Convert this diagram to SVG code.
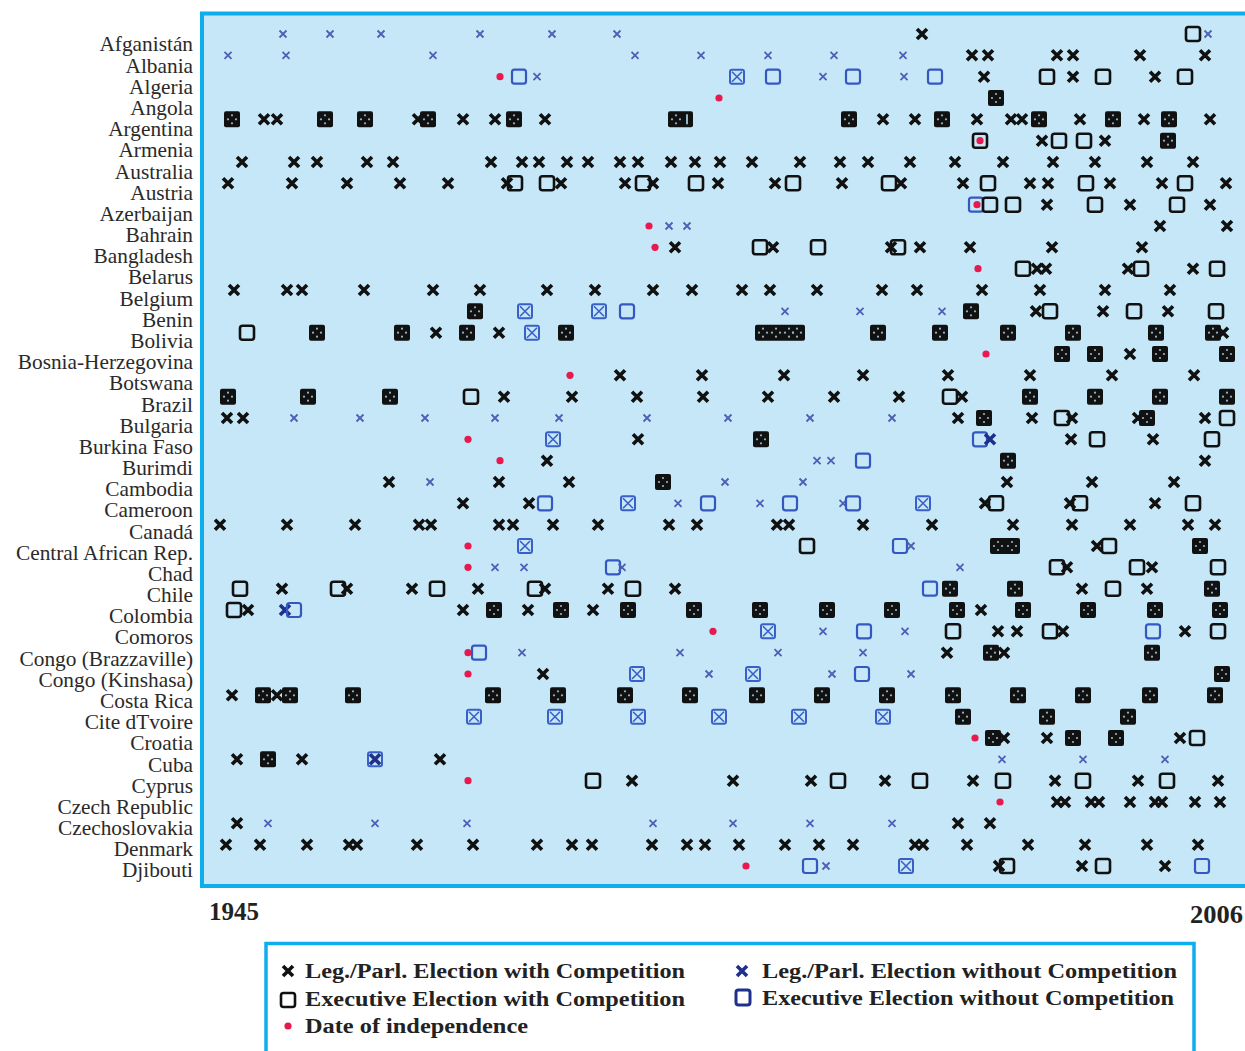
<svg xmlns="http://www.w3.org/2000/svg" width="1245" height="1051" viewBox="0 0 1245 1051">
<style>
.lbl{font-family:"Liberation Serif","Times New Roman",serif;font-size:22px;fill:#2a2a2a;text-anchor:end}
.yr{font-family:"Liberation Serif","Times New Roman",serif;font-size:25px;font-weight:bold;fill:#222}
.lg{font-family:"Liberation Serif","Times New Roman",serif;font-size:20px;font-weight:bold;fill:#222}
.dot{fill:#8fb7c9}
</style>
<defs>
<g id="X"><path d="M-5,-5L5,5M5,-5L-5,5" stroke="#111" stroke-width="3.6" fill="none"/></g>
<g id="x"><path d="M-3.5,-3.5L3.5,3.5M3.5,-3.5L-3.5,3.5" stroke="#4d5fb5" stroke-width="1.8" fill="none"/></g>
<g id="Q"><path d="M-5,-5L5,5M5,-5L-5,5" stroke="#1f308c" stroke-width="3.6" fill="none"/></g>
<g id="S"><rect x="-7" y="-7" width="14" height="14" rx="2.5" fill="none" stroke="#111" stroke-width="2.6"/></g>
<g id="B"><rect x="-7" y="-7" width="14" height="14" rx="2.5" fill="none" stroke="#3558c0" stroke-width="2.2"/></g>
<g id="D"><circle cx="-4" cy="0" r="1.1" class="dot"/><circle cx="4" cy="0" r="1.1" class="dot"/><circle cx="0" cy="-4" r="1.1" class="dot"/><circle cx="0" cy="4" r="1.1" class="dot"/></g>
<g id="F"><rect x="-8" y="-8" width="16" height="16" rx="2" fill="#111"/><use href="#D"/></g>
<g id="G"><rect x="-7" y="-7" width="14" height="14" rx="2" fill="none" stroke="#3a60c8" stroke-width="2"/><path d="M-5,-5L5,5M5,-5L-5,5" stroke="#3a60c8" stroke-width="1.6"/></g>
<g id="R"><circle r="3.6" fill="#e8194f"/></g>
</defs>
<rect width="1245" height="1051" fill="#ffffff"/>
<rect id="plot" x="202" y="13.5" width="1060" height="872.5" fill="#c6e7f7" stroke="#0eaeec" stroke-width="4"/>
<g id="labels" transform="scale(0.97 1)">
<text class="lbl" x="199" y="51.5">Afganistán</text>
<text class="lbl" x="199" y="72.7">Albania</text>
<text class="lbl" x="199" y="93.9">Algeria</text>
<text class="lbl" x="199" y="115">Angola</text>
<text class="lbl" x="199" y="136.2">Argentina</text>
<text class="lbl" x="199" y="157.4">Armenia</text>
<text class="lbl" x="199" y="178.6">Australia</text>
<text class="lbl" x="199" y="199.8">Austria</text>
<text class="lbl" x="199" y="220.9">Azerbaijan</text>
<text class="lbl" x="199" y="242.1">Bahrain</text>
<text class="lbl" x="199" y="263.3">Bangladesh</text>
<text class="lbl" x="199" y="284.5">Belarus</text>
<text class="lbl" x="199" y="305.7">Belgium</text>
<text class="lbl" x="199" y="326.8">Benin</text>
<text class="lbl" x="199" y="348">Bolivia</text>
<text class="lbl" x="199" y="369.2">Bosnia-Herzegovina</text>
<text class="lbl" x="199" y="390.4">Botswana</text>
<text class="lbl" x="199" y="411.6">Brazil</text>
<text class="lbl" x="199" y="432.7">Bulgaria</text>
<text class="lbl" x="199" y="453.9">Burkina Faso</text>
<text class="lbl" x="199" y="475.1">Burimdi</text>
<text class="lbl" x="199" y="496.3">Cambodia</text>
<text class="lbl" x="199" y="517.5">Cameroon</text>
<text class="lbl" x="199" y="538.6">Canadá</text>
<text class="lbl" x="199" y="559.8">Central African Rep.</text>
<text class="lbl" x="199" y="581">Chad</text>
<text class="lbl" x="199" y="602.2">Chile</text>
<text class="lbl" x="199" y="623.4">Colombia</text>
<text class="lbl" x="199" y="644.5">Comoros</text>
<text class="lbl" x="199" y="665.7">Congo (Brazzaville)</text>
<text class="lbl" x="199" y="686.9">Congo (Kinshasa)</text>
<text class="lbl" x="199" y="708.1">Costa Rica</text>
<text class="lbl" x="199" y="729.3">Cite dTvoire</text>
<text class="lbl" x="199" y="750.4">Croatia</text>
<text class="lbl" x="199" y="771.6">Cuba</text>
<text class="lbl" x="199" y="792.8">Cyprus</text>
<text class="lbl" x="199" y="814">Czech Republic</text>
<text class="lbl" x="199" y="835.2">Czechoslovakia</text>
<text class="lbl" x="199" y="856.3">Denmark</text>
<text class="lbl" x="199" y="877.5">Djibouti</text>
</g>
<g id="markers">
<g id="r-afganistan" transform="translate(0,34)"><use href="#x" x="283"/><use href="#x" x="330"/><use href="#x" x="381"/><use href="#x" x="480"/><use href="#x" x="552"/><use href="#x" x="617"/><use href="#X" x="922"/><use href="#S" x="1193"/><use href="#x" x="1208"/></g>
<g id="r-albania" transform="translate(0,55.3)"><use href="#x" x="228"/><use href="#x" x="286"/><use href="#x" x="433"/><use href="#x" x="635"/><use href="#x" x="701"/><use href="#x" x="768"/><use href="#x" x="834"/><use href="#x" x="903"/><use href="#X" x="972"/><use href="#X" x="988"/><use href="#X" x="1057"/><use href="#X" x="1073"/><use href="#X" x="1140"/><use href="#X" x="1205"/></g>
<g id="r-algeria" transform="translate(0,76.7)"><use href="#R" x="500"/><use href="#B" x="519"/><use href="#x" x="537"/><use href="#G" x="737"/><use href="#B" x="773"/><use href="#x" x="823"/><use href="#B" x="853"/><use href="#x" x="904"/><use href="#B" x="935"/><use href="#X" x="984"/><use href="#S" x="1047"/><use href="#X" x="1073"/><use href="#S" x="1103"/><use href="#X" x="1155"/><use href="#S" x="1185"/></g>
<g id="r-angola" transform="translate(0,98)"><use href="#R" x="719"/><use href="#F" x="996"/></g>
<g id="r-argentina" transform="translate(0,119.3)"><use href="#F" x="232"/><use href="#X" x="264"/><use href="#X" x="277"/><use href="#F" x="325"/><use href="#F" x="365"/><use href="#X" x="418"/><use href="#F" x="428"/><use href="#X" x="463"/><use href="#X" x="495"/><use href="#F" x="514"/><use href="#X" x="545"/><rect x="668" y="-8" width="25" height="16" rx="2" fill="#111"/><use href="#D" x="676"/><rect x="686" y="-5" width="2" height="10" class="dot"/><use href="#F" x="849"/><use href="#X" x="883"/><use href="#X" x="915"/><use href="#F" x="942"/><use href="#X" x="977"/><use href="#X" x="1011"/><use href="#X" x="1022"/><use href="#F" x="1039"/><use href="#X" x="1080"/><use href="#F" x="1113"/><use href="#X" x="1144"/><use href="#F" x="1169"/><use href="#X" x="1210"/></g>
<g id="r-armenia" transform="translate(0,140.7)"><use href="#S" x="980"/><use href="#R" x="980"/><use href="#X" x="1042"/><use href="#S" x="1059"/><use href="#S" x="1084"/><use href="#X" x="1105"/><use href="#F" x="1168"/></g>
<g id="r-australia" transform="translate(0,162)"><use href="#X" x="242"/><use href="#X" x="294"/><use href="#X" x="317"/><use href="#X" x="367"/><use href="#X" x="393"/><use href="#X" x="491"/><use href="#X" x="522"/><use href="#X" x="539"/><use href="#X" x="567"/><use href="#X" x="588"/><use href="#X" x="620"/><use href="#X" x="638"/><use href="#X" x="671"/><use href="#X" x="695"/><use href="#X" x="720"/><use href="#X" x="752"/><use href="#X" x="800"/><use href="#X" x="840"/><use href="#X" x="868"/><use href="#X" x="910"/><use href="#X" x="955"/><use href="#X" x="1003"/><use href="#X" x="1053"/><use href="#X" x="1095"/><use href="#X" x="1147"/><use href="#X" x="1193"/></g>
<g id="r-austria" transform="translate(0,183.3)"><use href="#X" x="228"/><use href="#X" x="292"/><use href="#X" x="347"/><use href="#X" x="400"/><use href="#X" x="448"/><use href="#X" x="507"/><use href="#S" x="515"/><use href="#S" x="547"/><use href="#X" x="561"/><use href="#X" x="625"/><use href="#S" x="643"/><use href="#X" x="653"/><use href="#S" x="696"/><use href="#X" x="718"/><use href="#X" x="775"/><use href="#S" x="793"/><use href="#X" x="842"/><use href="#S" x="889"/><use href="#X" x="901"/><use href="#X" x="963"/><use href="#S" x="988"/><use href="#X" x="1030"/><use href="#X" x="1048"/><use href="#S" x="1086"/><use href="#X" x="1110"/><use href="#X" x="1162"/><use href="#S" x="1185"/><use href="#X" x="1226"/></g>
<g id="r-azerbaijan" transform="translate(0,204.7)"><use href="#B" x="976"/><use href="#R" x="977"/><use href="#S" x="990"/><use href="#S" x="1013"/><use href="#X" x="1047"/><use href="#S" x="1095"/><use href="#X" x="1130"/><use href="#S" x="1177"/><use href="#X" x="1210"/></g>
<g id="r-bahrain" transform="translate(0,226)"><use href="#R" x="649"/><use href="#x" x="669"/><use href="#x" x="687"/><use href="#X" x="1160"/><use href="#X" x="1227"/></g>
<g id="r-bangladesh" transform="translate(0,247.3)"><use href="#R" x="655"/><use href="#X" x="675"/><use href="#S" x="760"/><use href="#X" x="773"/><use href="#S" x="818"/><use href="#X" x="891"/><use href="#S" x="898"/><use href="#X" x="920"/><use href="#X" x="970"/><use href="#X" x="1052"/><use href="#X" x="1142"/></g>
<g id="r-belarus" transform="translate(0,268.7)"><use href="#R" x="978"/><use href="#S" x="1023"/><use href="#X" x="1037"/><use href="#X" x="1046"/><use href="#X" x="1128"/><use href="#S" x="1141"/><use href="#X" x="1193"/><use href="#S" x="1217"/></g>
<g id="r-belgium" transform="translate(0,290)"><use href="#X" x="234"/><use href="#X" x="287"/><use href="#X" x="302"/><use href="#X" x="364"/><use href="#X" x="433"/><use href="#X" x="480"/><use href="#X" x="547"/><use href="#X" x="595"/><use href="#X" x="653"/><use href="#X" x="692"/><use href="#X" x="742"/><use href="#X" x="770"/><use href="#X" x="817"/><use href="#X" x="882"/><use href="#X" x="917"/><use href="#X" x="982"/><use href="#X" x="1040"/><use href="#X" x="1105"/><use href="#X" x="1170"/></g>
<g id="r-benin" transform="translate(0,311.3)"><use href="#F" x="475"/><use href="#G" x="525"/><use href="#G" x="599"/><use href="#B" x="627"/><use href="#x" x="785"/><use href="#x" x="860"/><use href="#x" x="942"/><use href="#F" x="971"/><use href="#X" x="1036"/><use href="#S" x="1050"/><use href="#X" x="1103"/><use href="#S" x="1134"/><use href="#X" x="1168"/><use href="#S" x="1216"/></g>
<g id="r-bolivia" transform="translate(0,332.7)"><use href="#S" x="247"/><use href="#F" x="317"/><use href="#F" x="402"/><use href="#X" x="436"/><use href="#F" x="467"/><use href="#X" x="499"/><use href="#G" x="532"/><use href="#F" x="566"/><rect x="755" y="-8" width="50" height="16" rx="2" fill="#111"/><use href="#D" x="763"/><use href="#D" x="776"/><use href="#D" x="789"/><use href="#D" x="797"/><use href="#F" x="878"/><use href="#F" x="940"/><use href="#F" x="1008"/><use href="#F" x="1073"/><use href="#F" x="1156"/><use href="#F" x="1213"/><use href="#X" x="1223"/></g>
<g id="r-bosnia" transform="translate(0,354)"><use href="#R" x="986"/><use href="#F" x="1062"/><use href="#F" x="1095"/><use href="#X" x="1130"/><use href="#F" x="1160"/><use href="#F" x="1227"/></g>
<g id="r-botswana" transform="translate(0,375.3)"><use href="#R" x="570"/><use href="#X" x="620"/><use href="#X" x="702"/><use href="#X" x="784"/><use href="#X" x="863"/><use href="#X" x="948"/><use href="#X" x="1030"/><use href="#X" x="1112"/><use href="#X" x="1194"/></g>
<g id="r-brazil" transform="translate(0,396.7)"><use href="#F" x="228"/><use href="#F" x="308"/><use href="#F" x="390"/><use href="#S" x="471"/><use href="#X" x="504"/><use href="#X" x="572"/><use href="#X" x="637"/><use href="#X" x="703"/><use href="#X" x="768"/><use href="#X" x="834"/><use href="#X" x="899"/><use href="#S" x="950"/><use href="#X" x="962"/><use href="#F" x="1030"/><use href="#F" x="1095"/><use href="#F" x="1160"/><use href="#F" x="1227"/></g>
<g id="r-bulgaria" transform="translate(0,418)"><use href="#X" x="227"/><use href="#X" x="243"/><use href="#x" x="294"/><use href="#x" x="360"/><use href="#x" x="425"/><use href="#x" x="495"/><use href="#x" x="559"/><use href="#x" x="647"/><use href="#x" x="728"/><use href="#x" x="810"/><use href="#x" x="892"/><use href="#X" x="958"/><use href="#F" x="984"/><use href="#X" x="1032"/><use href="#S" x="1062"/><use href="#X" x="1072"/><use href="#X" x="1138"/><use href="#F" x="1147"/><use href="#X" x="1205"/><use href="#S" x="1227"/></g>
<g id="r-burkina" transform="translate(0,439.3)"><use href="#R" x="468"/><use href="#G" x="553"/><use href="#X" x="638"/><use href="#F" x="761"/><use href="#B" x="980"/><use href="#Q" x="990"/><use href="#X" x="1071"/><use href="#S" x="1097"/><use href="#X" x="1153"/><use href="#S" x="1212"/></g>
<g id="r-burimdi" transform="translate(0,460.7)"><use href="#R" x="500"/><use href="#X" x="547"/><use href="#x" x="817"/><use href="#x" x="831"/><use href="#B" x="863"/><use href="#F" x="1008"/><use href="#X" x="1205"/></g>
<g id="r-cambodia" transform="translate(0,482)"><use href="#X" x="389"/><use href="#x" x="430"/><use href="#X" x="499"/><use href="#X" x="569"/><use href="#F" x="663"/><use href="#x" x="725"/><use href="#x" x="803"/><use href="#X" x="1007"/><use href="#X" x="1092"/><use href="#X" x="1174"/></g>
<g id="r-cameroon" transform="translate(0,503.3)"><use href="#X" x="463"/><use href="#X" x="529"/><use href="#B" x="545"/><use href="#G" x="628"/><use href="#x" x="678"/><use href="#B" x="708"/><use href="#x" x="760"/><use href="#B" x="790"/><use href="#x" x="843"/><use href="#B" x="853"/><use href="#G" x="923"/><use href="#X" x="985"/><use href="#S" x="996"/><use href="#X" x="1070"/><use href="#S" x="1080"/><use href="#X" x="1155"/><use href="#S" x="1193"/></g>
<g id="r-canada" transform="translate(0,524.7)"><use href="#X" x="220"/><use href="#X" x="287"/><use href="#X" x="355"/><use href="#X" x="419"/><use href="#X" x="431"/><use href="#X" x="499"/><use href="#X" x="513"/><use href="#X" x="553"/><use href="#X" x="598"/><use href="#X" x="669"/><use href="#X" x="697"/><use href="#X" x="777"/><use href="#X" x="789"/><use href="#X" x="863"/><use href="#X" x="932"/><use href="#X" x="1013"/><use href="#X" x="1072"/><use href="#X" x="1130"/><use href="#X" x="1188"/><use href="#X" x="1215"/></g>
<g id="r-car" transform="translate(0,546)"><use href="#R" x="468"/><use href="#G" x="525"/><use href="#S" x="807"/><use href="#B" x="900"/><use href="#x" x="911"/><rect x="990" y="-8" width="30" height="16" rx="2" fill="#111"/><use href="#D" x="998"/><use href="#D" x="1012"/><use href="#F" x="1200"/><use href="#X" x="1097"/><use href="#S" x="1109"/></g>
<g id="r-chad" transform="translate(0,567.3)"><use href="#R" x="468"/><use href="#x" x="495"/><use href="#x" x="524"/><use href="#B" x="613"/><use href="#x" x="622"/><use href="#x" x="960"/><use href="#S" x="1057"/><use href="#X" x="1067"/><use href="#S" x="1137"/><use href="#X" x="1152"/><use href="#S" x="1218"/></g>
<g id="r-chile" transform="translate(0,588.7)"><use href="#S" x="240"/><use href="#X" x="282"/><use href="#S" x="338"/><use href="#X" x="347"/><use href="#X" x="412"/><use href="#S" x="437"/><use href="#X" x="478"/><use href="#S" x="535"/><use href="#X" x="545"/><use href="#X" x="608"/><use href="#S" x="633"/><use href="#X" x="675"/><use href="#B" x="930"/><use href="#F" x="950"/><use href="#F" x="1015"/><use href="#X" x="1082"/><use href="#S" x="1113"/><use href="#X" x="1147"/><use href="#F" x="1212"/></g>
<g id="r-colombia" transform="translate(0,610)"><use href="#S" x="234"/><use href="#X" x="248"/><use href="#Q" x="285"/><use href="#B" x="294"/><use href="#X" x="463"/><use href="#F" x="494"/><use href="#X" x="528"/><use href="#F" x="561"/><use href="#X" x="593"/><use href="#F" x="628"/><use href="#F" x="694"/><use href="#F" x="760"/><use href="#F" x="827"/><use href="#F" x="892"/><use href="#F" x="957"/><use href="#X" x="981"/><use href="#F" x="1023"/><use href="#F" x="1088"/><use href="#F" x="1155"/><use href="#F" x="1220"/></g>
<g id="r-comoros" transform="translate(0,631.3)"><use href="#R" x="713"/><use href="#G" x="768"/><use href="#x" x="823"/><use href="#B" x="864"/><use href="#x" x="905"/><use href="#S" x="953"/><use href="#X" x="998"/><use href="#X" x="1017"/><use href="#S" x="1050"/><use href="#X" x="1063"/><use href="#B" x="1153"/><use href="#X" x="1185"/><use href="#S" x="1218"/></g>
<g id="r-congo-b" transform="translate(0,652.7)"><use href="#R" x="468"/><use href="#B" x="479"/><use href="#x" x="522"/><use href="#x" x="680"/><use href="#x" x="778"/><use href="#x" x="863"/><use href="#X" x="947"/><use href="#F" x="991"/><use href="#X" x="1004"/><use href="#F" x="1152"/></g>
<g id="r-congo-k" transform="translate(0,674)"><use href="#R" x="468"/><use href="#X" x="543"/><use href="#G" x="637"/><use href="#x" x="709"/><use href="#G" x="753"/><use href="#x" x="832"/><use href="#B" x="862"/><use href="#x" x="911"/><use href="#F" x="1222"/></g>
<g id="r-costa-rica" transform="translate(0,695.3)"><use href="#X" x="232"/><use href="#F" x="263"/><use href="#X" x="277"/><use href="#F" x="290"/><use href="#F" x="353"/><use href="#F" x="493"/><use href="#F" x="558"/><use href="#F" x="625"/><use href="#F" x="690"/><use href="#F" x="757"/><use href="#F" x="822"/><use href="#F" x="887"/><use href="#F" x="953"/><use href="#F" x="1018"/><use href="#F" x="1083"/><use href="#F" x="1150"/><use href="#F" x="1215"/></g>
<g id="r-cite-divoire" transform="translate(0,716.7)"><use href="#G" x="474"/><use href="#G" x="555"/><use href="#G" x="638"/><use href="#G" x="719"/><use href="#G" x="799"/><use href="#G" x="883"/><use href="#F" x="963"/><use href="#F" x="1047"/><use href="#F" x="1128"/></g>
<g id="r-croatia" transform="translate(0,738)"><use href="#R" x="975"/><use href="#F" x="993"/><use href="#X" x="1004"/><use href="#X" x="1047"/><use href="#F" x="1073"/><use href="#F" x="1116"/><use href="#X" x="1180"/><use href="#S" x="1197"/></g>
<g id="r-cuba" transform="translate(0,759.3)"><use href="#X" x="237"/><use href="#F" x="268"/><use href="#X" x="302"/><use href="#G" x="375"/><use href="#Q" x="375"/><use href="#X" x="440"/><use href="#x" x="1002"/><use href="#x" x="1083"/><use href="#x" x="1165"/></g>
<g id="r-cyprus" transform="translate(0,780.7)"><use href="#R" x="468"/><use href="#S" x="593"/><use href="#X" x="632"/><use href="#X" x="733"/><use href="#X" x="811"/><use href="#S" x="838"/><use href="#X" x="885"/><use href="#S" x="920"/><use href="#X" x="973"/><use href="#S" x="1003"/><use href="#X" x="1055"/><use href="#S" x="1083"/><use href="#X" x="1138"/><use href="#S" x="1167"/><use href="#X" x="1218"/></g>
<g id="r-czech" transform="translate(0,802)"><use href="#R" x="1000"/><use href="#X" x="1057"/><use href="#X" x="1065"/><use href="#X" x="1091"/><use href="#X" x="1099"/><use href="#X" x="1130"/><use href="#X" x="1155"/><use href="#X" x="1162"/><use href="#X" x="1195"/><use href="#X" x="1220"/></g>
<g id="r-czechoslovakia" transform="translate(0,823.3)"><use href="#X" x="237"/><use href="#x" x="268"/><use href="#x" x="375"/><use href="#x" x="467"/><use href="#x" x="653"/><use href="#x" x="733"/><use href="#x" x="810"/><use href="#x" x="892"/><use href="#X" x="958"/><use href="#X" x="990"/></g>
<g id="r-denmark" transform="translate(0,844.7)"><use href="#X" x="226"/><use href="#X" x="260"/><use href="#X" x="307"/><use href="#X" x="349"/><use href="#X" x="357"/><use href="#X" x="417"/><use href="#X" x="473"/><use href="#X" x="537"/><use href="#X" x="572"/><use href="#X" x="592"/><use href="#X" x="652"/><use href="#X" x="687"/><use href="#X" x="705"/><use href="#X" x="739"/><use href="#X" x="785"/><use href="#X" x="819"/><use href="#X" x="853"/><use href="#X" x="915"/><use href="#X" x="923"/><use href="#X" x="967"/><use href="#X" x="1028"/><use href="#X" x="1085"/><use href="#X" x="1147"/><use href="#X" x="1198"/></g>
<g id="r-djibouti" transform="translate(0,866)"><use href="#R" x="746"/><use href="#B" x="810"/><use href="#x" x="826"/><use href="#G" x="906"/><use href="#X" x="999"/><use href="#S" x="1007"/><use href="#X" x="1082"/><use href="#S" x="1103"/><use href="#X" x="1165"/><use href="#B" x="1202"/></g>
</g>
<text class="yr" x="209" y="920">1945</text>
<text class="yr" x="1190" y="923" textLength="53" lengthAdjust="spacingAndGlyphs">2006</text>
<g id="legend">
<rect x="266" y="943.5" width="928" height="120" fill="#ffffff" stroke="#0eaeec" stroke-width="3.5"/>
<use href="#X" x="288" y="971"/>
<text class="lg" x="305" y="978" textLength="380" lengthAdjust="spacingAndGlyphs">Leg./Parl. Election with Competition</text>
<use href="#S" x="288" y="1000"/>
<text class="lg" x="305" y="1006" textLength="380" lengthAdjust="spacingAndGlyphs">Executive Election with Competition</text>
<use href="#R" x="288" y="1026"/>
<text class="lg" x="305" y="1033" textLength="223" lengthAdjust="spacingAndGlyphs">Date of independence</text>
<use href="#Q" x="742" y="971"/>
<text class="lg" x="762" y="978" textLength="415" lengthAdjust="spacingAndGlyphs">Leg./Parl. Election without Competition</text>
<rect x="736" y="990" width="14" height="15" rx="2.5" fill="none" stroke="#1f308c" stroke-width="3"/>
<text class="lg" x="762" y="1005" textLength="412" lengthAdjust="spacingAndGlyphs">Executive Election without Competition</text>
</g>
</svg>
